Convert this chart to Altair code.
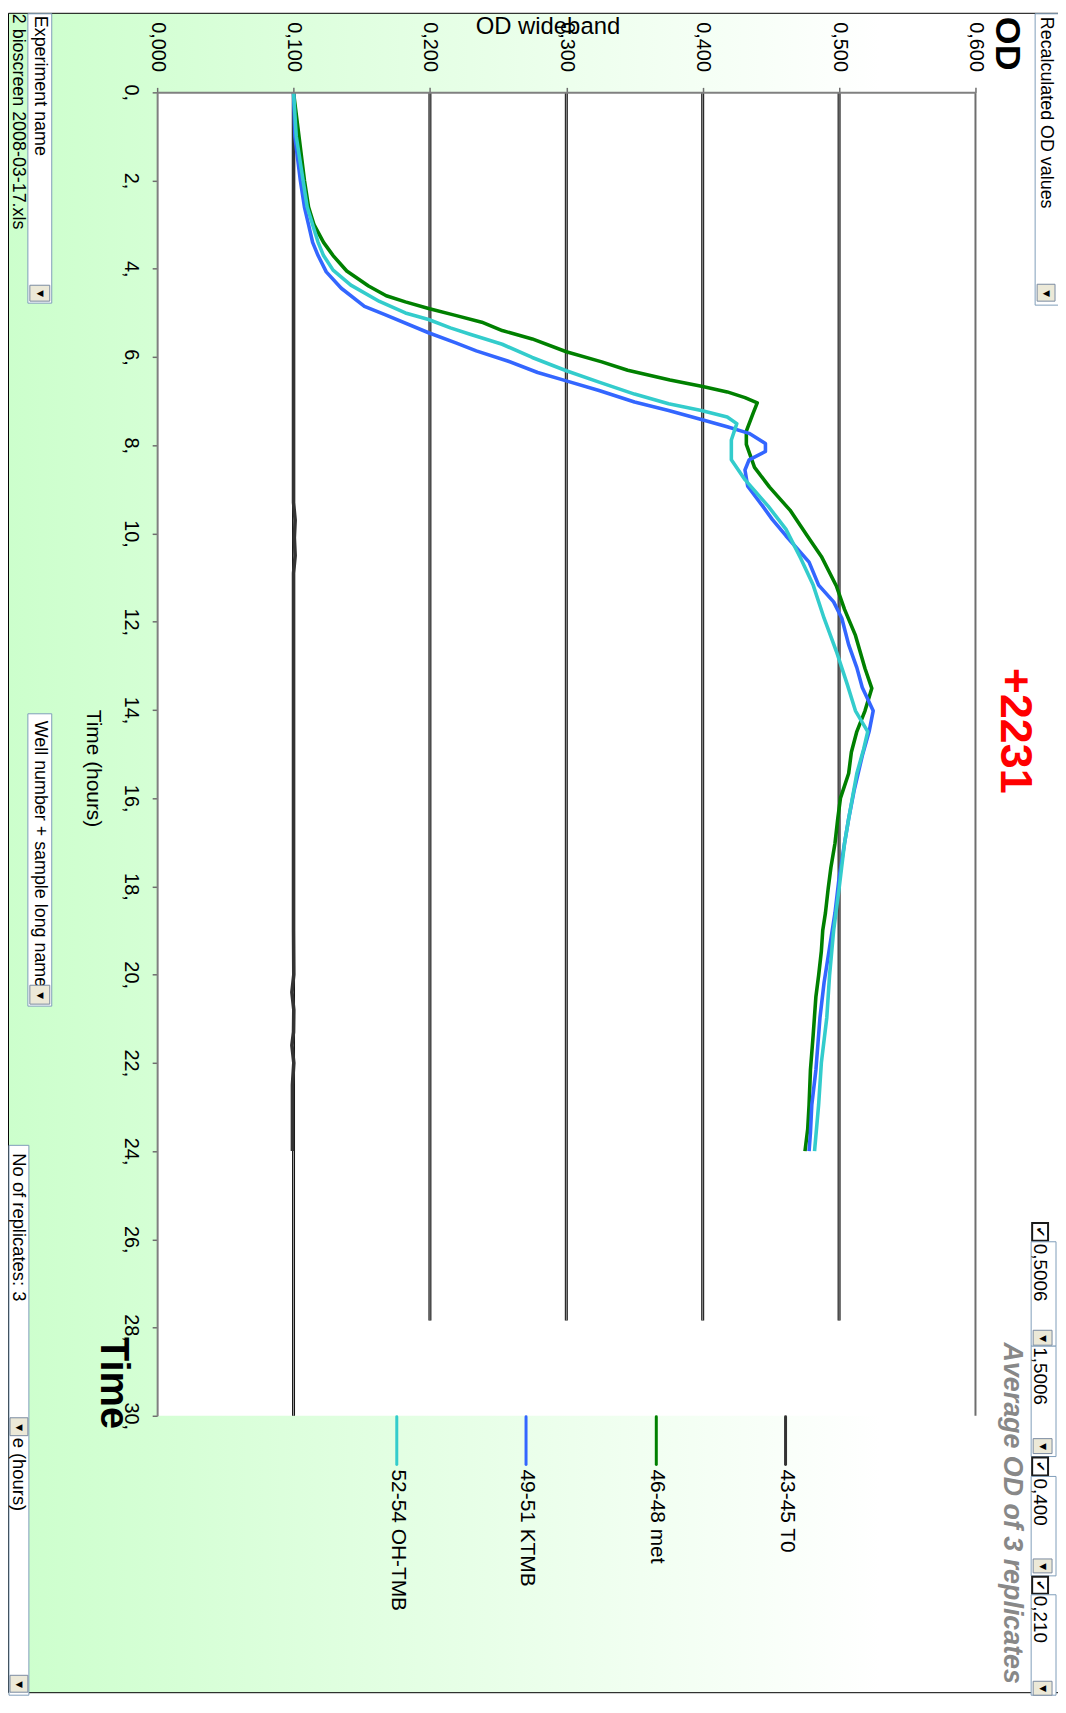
import altair as alt
import pandas as pd

# ---------------- data ----------------
series_names = ["43-45 T0", "46-48 met", "49-51 KTMB", "52-54 OH-TMB"]
series_colors = ["#333333", "#008000", "#3366FF", "#33CCCC"]

t0_time = [0, 2, 4, 6, 8, 9.3, 9.7, 10.1, 10.5, 10.9, 13, 16, 19, 20.0, 20.4, 20.8, 21.3, 21.6, 22.0, 22.5, 23.2, 24]
t0_od = [0.100, 0.100, 0.100, 0.100, 0.100, 0.100, 0.1012, 0.1006, 0.1012, 0.100, 0.100, 0.100, 0.100,
         0.1002, 0.0988, 0.1002, 0.1000, 0.0988, 0.1002, 0.0992, 0.0992, 0.0992]

met_time = [0, 1, 2, 2.6, 3, 3.4, 3.7, 4.05, 4.39, 4.61, 4.75, 4.9, 5.05, 5.21, 5.40, 5.59, 5.88, 6.11,
            6.30, 6.52, 6.67, 6.79, 6.92, 7.04, 7.27, 7.68, 7.98, 8.50, 8.95, 9.47, 10.07, 10.52, 11.19,
            11.72, 12.31, 13.06, 13.51, 14.02, 14.49, 14.96, 15.44, 16.0, 16.47, 17.02, 17.57, 18.05,
            18.6, 19.0, 19.47, 20.02, 20.5, 21.37, 22.16, 22.95, 23.5, 24]
met_od = [0.100, 0.104, 0.108, 0.111, 0.115, 0.122, 0.129, 0.139, 0.155, 0.168, 0.182, 0.199, 0.218,
          0.238, 0.253, 0.275, 0.300, 0.326, 0.345, 0.376, 0.400, 0.418, 0.431, 0.440, 0.437, 0.432,
          0.432, 0.438, 0.449, 0.464, 0.477, 0.487, 0.498, 0.504, 0.512, 0.519, 0.524, 0.519, 0.513,
          0.509, 0.507, 0.501, 0.499, 0.497, 0.494, 0.492, 0.490, 0.488, 0.487, 0.485, 0.483, 0.481,
          0.479, 0.478, 0.477, 0.475]

ktmb_time = [0, 1, 2, 2.6, 3, 3.4, 3.7, 4.07, 4.44, 4.85, 5.04, 5.45, 5.68, 5.86, 6.09, 6.35, 6.54, 6.76,
             7.02, 7.21, 7.40, 7.58, 7.73, 7.96, 8.14, 8.33, 8.56, 8.93, 9.38, 9.68, 10.05, 10.65, 11.17,
             11.55, 11.92, 12.52, 13.04, 13.49, 14.02, 14.49, 15.04, 15.83, 16.47, 17.02, 17.81, 18.6,
             19.39, 20.18, 20.97, 22.16, 22.95, 23.58, 24]
ktmb_od = [0.100, 0.101, 0.105, 0.108, 0.111, 0.114, 0.118, 0.124, 0.135, 0.152, 0.167, 0.199, 0.219,
           0.234, 0.257, 0.279, 0.300, 0.324, 0.350, 0.375, 0.397, 0.418, 0.434, 0.446, 0.446, 0.434,
           0.431, 0.433, 0.444, 0.451, 0.461, 0.478, 0.485, 0.496, 0.502, 0.507, 0.513, 0.517, 0.525,
           0.522, 0.517, 0.511, 0.507, 0.504, 0.500, 0.497, 0.493, 0.489, 0.486, 0.483, 0.480, 0.479, 0.478]

oh_time = [0, 1, 2, 2.6, 3, 3.4, 3.7, 4.03, 4.37, 4.74, 5.00, 5.15, 5.34, 5.49, 5.71, 6.01, 6.31, 6.57,
           6.84, 7.06, 7.21, 7.36, 7.51, 7.88, 8.33, 8.78, 9.38, 9.90, 10.57, 11.17, 11.92, 12.67, 13.42,
           14.02, 14.49, 14.89, 15.44, 16.47, 17.02, 18.05, 19.0, 20.02, 20.97, 22.0, 22.95, 24]
oh_od = [0.100, 0.102, 0.107, 0.110, 0.114, 0.118, 0.122, 0.129, 0.142, 0.163, 0.182, 0.199, 0.215,
         0.230, 0.253, 0.275, 0.300, 0.324, 0.350, 0.375, 0.399, 0.418, 0.425, 0.421, 0.421, 0.431,
         0.448, 0.461, 0.472, 0.481, 0.489, 0.498, 0.506, 0.512, 0.521, 0.518, 0.513, 0.507, 0.504,
         0.500, 0.496, 0.493, 0.491, 0.487, 0.485, 0.482]

od_ticks = [0.0, 0.1, 0.2, 0.3, 0.4, 0.5, 0.6]
time_ticks = list(range(0, 31, 2))
grid_od = [0.1, 0.2, 0.3, 0.4, 0.5]
grid_end = [30, 27.84, 27.84, 27.84, 27.84]

rows = []
for name, ts, vs in zip(series_names, [t0_time, met_time, ktmb_time, oh_time], [t0_od, met_od, ktmb_od, oh_od]):
    for t, v in zip(ts, vs):
        rows.append({"series": name, "t": t, "od": v})
df = pd.DataFrame(rows)

# ---------------- layout helpers ----------------
W, H = 823, 1331
X0, Y0 = 158, 88          # page position of the plot origin
PAD_L, PAD_T = X0 - 8, Y0 - 8
TOT_W, TOT_H = 1056, 1690
F = "Liberation Sans, Arial, sans-serif"


def px(X):
    return X - X0


def py(Y):
    return Y - Y0


one = pd.DataFrame({"k": [0]})
xs = alt.Scale(domain=[0, 0.6], nice=False, zero=False)
ys = alt.Scale(domain=[0, 30], nice=False, zero=False, reverse=True)

x_axis = alt.Axis(orient="top", values=od_ticks, labelExpr="replace(format(datum.value, '.3f'), '.', ',')",
                  labelAngle=90, labelAlign="right", labelBaseline="middle", labelFont=F,
                  labelFontSize=20, labelColor="black", labelPadding=16, labelFlush=False,
                  labelOverlap=False, tickSize=5, tickColor="#6e6e6e", tickWidth=1.5,
                  domainColor="#808080", domainWidth=2, grid=False, title=None, zindex=1)
y_axis = alt.Axis(orient="left", values=time_ticks, labelExpr="datum.value + ','",
                  labelAngle=90, labelAlign="center", labelBaseline="top", labelFont=F,
                  labelFontSize=20, labelColor="black", labelPadding=12, labelFlush=False,
                  labelOverlap=False, tickSize=5, tickColor="#6e6e6e", tickWidth=1.5,
                  domainColor="#808080", domainWidth=2, grid=False, title=None, zindex=1)

layers = []

# background gradient panel with border
grad = alt.LinearGradient(
    gradient="linear",
    stops=[alt.GradientStop(offset=0, color="#ccffcc"),
           alt.GradientStop(offset=0.818, color="#ffffff"),
           alt.GradientStop(offset=1, color="#ffffff")],
    x1=0, x2=1, y1=0, y2=0)
layers.append(alt.Chart(one).mark_rect(fill=grad, stroke="#000000", strokeWidth=1).encode(
    x=alt.value(px(8.5)), x2=alt.value(px(1080)), y=alt.value(py(8.5)), y2=alt.value(py(1697.5))))

# white plot area
plot_df = pd.DataFrame({"od": [0.0], "od2": [0.6], "t": [0.0], "t2": [30.0]})
layers.append(alt.Chart(plot_df).mark_rect(fill="white").encode(
    x=alt.X("od:Q", scale=xs, axis=x_axis), x2="od2:Q",
    y=alt.Y("t:Q", scale=ys, axis=y_axis), y2="t2:Q"))

# gridlines (double line look)
gdf = pd.DataFrame({"od": grid_od, "t": [0] * len(grid_od), "t2": grid_end})
layers.append(alt.Chart(gdf).mark_rule(strokeWidth=3, color="#111111").encode(
    x=alt.X("od:Q", scale=xs, axis=x_axis), y=alt.Y("t:Q", scale=ys, axis=y_axis), y2="t2:Q"))
layers.append(alt.Chart(gdf).mark_rule(strokeWidth=1, color="#a0a0a0").encode(
    x=alt.X("od:Q", scale=xs, axis=x_axis), y=alt.Y("t:Q", scale=ys, axis=y_axis), y2="t2:Q"))
edf = pd.DataFrame({"od": [0.6], "t": [0], "t2": [30]})
layers.append(alt.Chart(edf).mark_rule(strokeWidth=2, color="#6e6e6e").encode(
    x=alt.X("od:Q", scale=xs, axis=x_axis), y=alt.Y("t:Q", scale=ys, axis=y_axis), y2="t2:Q"))

# data lines
layers.append(alt.Chart(df).mark_line(strokeWidth=3.6, strokeJoin="round").encode(
    x=alt.X("od:Q", scale=xs, axis=x_axis),
    y=alt.Y("t:Q", scale=ys, axis=y_axis),
    color=alt.Color("series:N", scale=alt.Scale(domain=series_names, range=series_colors), legend=None),
    order=alt.Order("t:Q"),
    detail="series:N"))


def text(s, x, y, size, align="center", baseline="middle", angle=90, weight="normal",
         style="normal", color="black", font=F):
    return alt.Chart(one).mark_text(text=s, angle=angle, align=align, baseline=baseline,
                                    fontSize=size, fontWeight=weight, fontStyle=style,
                                    color=color, font=font).encode(
        x=alt.value(px(x)), y=alt.value(py(y)))


def box(x1, y1, x2, y2, fill="white", stroke="#7f9db9", sw=1):
    return alt.Chart(one).mark_rect(fill=fill, stroke=stroke, strokeWidth=sw).encode(
        x=alt.value(px(x1)), x2=alt.value(px(x2)), y=alt.value(py(y1)), y2=alt.value(py(y2)))


def button(x1, y1, x2, y2):
    return [box(x1, y1, x2, y2, fill="#ece9d8", stroke="#7a8aa0"),
            text("\u25C0", (x1 + x2) / 2, (y1 + y2) / 2, 9, angle=0, font="DejaVu Sans")]


def checkbox(x1, y1, x2, y2):
    return [box(x1, y1, x2, y2, fill="white", stroke="#1a1a1a", sw=2),
            text("\u2714", (x1 + x2) / 2, (y1 + y2) / 2, 13, angle=90, font="DejaVu Sans")]


# legend
legend_x = [790, 660, 529, 399]
for name, c, lx in zip(series_names, series_colors, legend_x):
    layers.append(alt.Chart(one).mark_rule(color=c, strokeWidth=3, strokeCap="round").encode(
        x=alt.value(px(lx)), y=alt.value(py(1420)), y2=alt.value(py(1468))))
    layers.append(text(name, lx + 1, 1473, 21, align="left"))

# titles
layers.append(text("OD wideband", 551, 29, 24, angle=0, baseline="alphabetic"))
layers.append(text("Time (hours)", 93, 768, 21))
layers.append(text("OD", 1013, 39, 36, weight="bold"))
layers.append(text("+2231", 1021, 730, 45, weight="bold", color="#ff0000"))
layers.append(text("Average OD of 3 replicates", 1018, 1517, 27, weight="bold", style="italic",
                   color="#888888"))
layers.append(text("Time", 114, 1386, 40, weight="bold"))

# UI widgets
layers.append(box(1041, 9, 1070, 302))
layers.append(text("Recalculated OD values", 1052, 12, 18, align="left"))
layers += button(1043, 281, 1061, 298)

layers.append(box(28, 9, 52, 300))
layers.append(text("Experiment name", 40, 11, 18, align="left"))
layers += button(30, 282, 50, 298)
layers.append(text("2 bioscreen 2008-03-17.xls", 18, 9, 18, align="left"))

layers.append(box(28, 713, 52, 1007))
layers.append(text("Well number + sample long name", 40, 720, 18, align="left"))
layers += button(30, 986, 50, 1005)

layers.append(box(9, 1147, 29, 1700))
layers.append(text("No of replicates: 3", 19, 1155, 18.5, align="left"))
layers += button(10, 1421, 28, 1439)
layers.append(text("e (hours)", 19, 1441, 18.5, align="left"))
layers += button(10, 1680, 28, 1697)

# right-hand value column
layers += checkbox(1038, 1225, 1054, 1243)
layers.append(box(1037, 1244, 1062, 1349))
layers.append(text("0,5006", 1046, 1246, 19, align="left"))
layers += button(1039, 1333, 1058, 1348)
layers.append(box(1037, 1349, 1062, 1460))
layers.append(text("1,5006", 1046, 1350, 19, align="left"))
layers += button(1039, 1442, 1058, 1457)
layers += checkbox(1038, 1461, 1054, 1479)
layers.append(box(1037, 1480, 1062, 1580))
layers.append(text("0,400", 1046, 1482, 19, align="left"))
layers += button(1039, 1563, 1058, 1577)
layers += checkbox(1038, 1581, 1054, 1598)
layers.append(box(1037, 1599, 1062, 1700))
layers.append(text("0,210", 1046, 1600, 19, align="left"))
layers += button(1039, 1686, 1058, 1700)

chart = alt.layer(*layers).properties(
    width=W, height=H,
    autosize=alt.AutoSizeParams(type="none"),
    padding={"left": PAD_L, "top": PAD_T, "right": TOT_W - PAD_L - W, "bottom": TOT_H - PAD_T - H},
    background="white",
).configure_view(stroke=None)

chart.save("out.html", embed_options={"renderer": "svg", "actions": False})
